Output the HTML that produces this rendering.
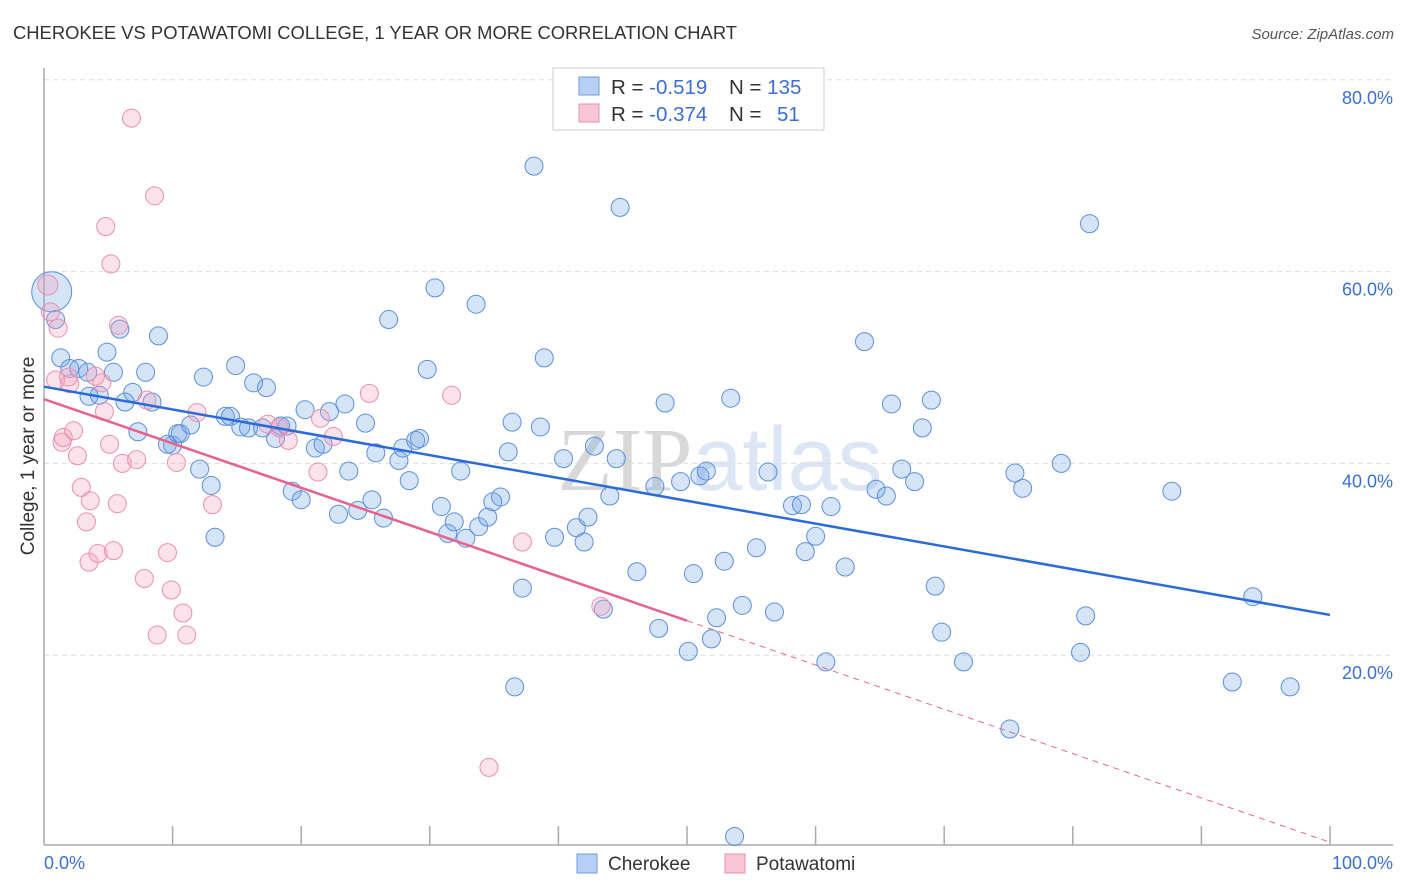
<!DOCTYPE html>
<html><head><meta charset="utf-8"><style>
body{margin:0;background:#fff;font-family:"Liberation Sans",sans-serif;}
svg{display:block}
</style></head><body>
<svg id="c" width="1406" height="892" xmlns="http://www.w3.org/2000/svg">
<text x="13" y="39" font-size="18" fill="#333" textLength="724" lengthAdjust="spacingAndGlyphs">CHEROKEE VS POTAWATOMI COLLEGE, 1 YEAR OR MORE CORRELATION CHART</text>
<text x="1394" y="39" font-size="15" fill="#555" font-style="italic" text-anchor="end">Source: ZipAtlas.com</text>
<text x="720" y="490" font-size="90" fill="#dde3ee" text-anchor="middle" font-family="Liberation Serif,serif"><tspan fill="#d8d8d8">ZIP</tspan><tspan fill="#dce6f5" font-family="Liberation Sans,sans-serif">atlas</tspan></text>
<text transform="translate(34,456) rotate(-90)" font-size="19" fill="#333" text-anchor="middle">College, 1 year or more</text>
<g id="grid"></g><g id="pts"></g><g id="trend"></g>
<g>
<rect x="553" y="68" width="271" height="62" fill="#fff" stroke="#ccc"/>
<rect x="579" y="77" width="20" height="18" fill="#b7d0f3" stroke="#6f9be0"/>
<rect x="579" y="104" width="20" height="18" fill="#f8c6d4" stroke="#ea90ab"/>
<text x="611" y="94" font-size="20.5" fill="#333">R = <tspan fill="#3a6fd8">-0.519</tspan><tspan x="729">N = </tspan><tspan fill="#3a6fd8">135</tspan></text>
<text x="611" y="121" font-size="20.5" fill="#333">R = <tspan fill="#3a6fd8">-0.374</tspan><tspan x="729">N = </tspan><tspan x="777" fill="#3a6fd8">51</tspan></text>
</g>
<g>
<rect x="577" y="854" width="20" height="19" fill="#b7d0f3" stroke="#6f9be0"/>
<text x="608" y="870" font-size="19" fill="#333">Cherokee</text>
<rect x="725" y="854" width="20" height="19" fill="#f8c6d4" stroke="#ea90ab"/>
<text x="756" y="870" font-size="19" fill="#333">Potawatomi</text>
</g>
</svg>
<script>
const yTicks=[20,40,60,80];
const yTickLabels=["20.0%","40.0%","60.0%","80.0%"];
const xTickLabels=["0.0%","100.0%"];
const cherokeeX=[0.6,0.9,1.3,2.0,2.7,3.4,3.5,4.3,4.9,5.4,5.9,6.3,6.9,7.3,7.9,8.4,8.9,9.6,10.0,10.4,10.6,11.4,12.1,12.4,13.0,13.3,14.1,14.5,14.9,15.3,15.9,16.3,17.0,17.3,18.0,18.4,18.9,19.3,20.0,20.3,21.1,21.7,22.2,22.9,23.4,23.7,24.4,25.0,25.5,25.8,26.4,26.8,27.6,27.9,28.4,28.9,29.2,29.8,30.4,30.9,31.4,31.9,32.4,32.8,33.6,33.8,34.5,34.9,35.5,36.1,36.4,36.6,37.2,38.1,38.6,38.9,39.7,40.4,41.4,42.0,42.3,42.8,43.5,44.0,44.5,44.8,46.1,47.5,47.8,48.3,49.5,50.1,50.5,51.0,51.5,51.9,52.3,52.9,53.4,54.3,55.4,56.3,56.8,58.2,58.9,59.2,60.0,60.8,61.2,62.3,63.8,64.7,65.5,65.9,66.7,67.7,68.3,69.0,69.3,69.8,71.5,75.1,75.5,76.1,79.1,80.6,81.0,81.3,87.7,94.0,92.4,96.9,53.7];
const cherokeeY=[57.9,55.0,51.0,49.9,49.9,49.5,47.0,47.1,51.6,49.5,54.0,46.4,47.4,43.3,49.5,46.4,53.3,42.0,41.9,43.1,43.1,44.0,39.4,49.0,37.7,32.3,44.9,44.9,50.2,43.8,43.7,48.4,43.7,47.9,42.6,43.9,43.9,37.1,36.2,45.6,41.6,42.0,45.4,34.7,46.2,39.2,35.1,44.2,36.2,41.1,34.3,55.0,40.3,41.6,38.2,42.4,42.6,49.8,58.3,35.5,32.7,33.9,39.2,32.2,56.6,33.4,34.4,36.0,36.5,41.2,44.3,16.7,27.0,71.0,43.8,51.0,32.3,40.5,33.3,31.8,34.4,41.8,24.8,36.6,40.5,66.7,28.7,37.6,22.8,46.3,38.1,20.4,28.5,38.7,39.2,21.7,23.9,29.8,46.8,25.2,31.2,39.1,24.5,35.6,35.7,30.8,32.4,19.3,35.5,29.2,52.7,37.3,36.6,46.2,39.4,38.1,43.7,46.6,27.2,22.4,19.3,12.3,39.0,37.4,40.0,20.3,24.1,65.0,37.1,26.1,17.2,16.7,1.1];
const potawatomiX=[0.3,0.5,1.1,0.9,1.4,1.5,2.3,1.9,2.0,2.6,2.9,3.3,3.5,3.6,4.2,4.0,4.5,4.7,5.1,5.2,4.8,5.4,5.7,5.8,6.1,6.8,7.2,7.8,8.0,8.6,8.8,9.6,9.9,10.3,10.8,11.1,11.9,13.1,17.4,19.0,21.3,21.5,22.5,25.3,31.7,34.6,37.2,43.3,18.3];
const potawatomiY=[58.6,55.8,54.1,48.7,42.2,42.7,43.4,49.0,48.3,40.8,37.5,33.9,29.7,36.1,30.6,49.1,48.4,45.4,42.0,60.8,64.7,30.9,35.8,54.4,40.0,76.0,40.4,28.0,46.6,67.9,22.1,30.7,26.8,40.1,24.4,22.1,45.3,35.7,44.1,42.4,39.1,44.7,42.8,47.3,47.1,8.3,31.8,25.1,43.7];
const cherokeeTrend=[48.0,24.2];
const potawatomiTrend=[46.7,0.5];
const L=44,R=1330,Y0=847,YS=9.59;
const sx=v=>L+(v/100)*(R-L), sy=v=>Y0-v*YS;
const NS="http://www.w3.org/2000/svg";
function mk(t,a,p){const e=document.createElementNS(NS,t);for(const k in a)e.setAttribute(k,a[k]);p.appendChild(e);return e;}
const g=document.getElementById('grid');
yTicks.forEach((t,i)=>{
 const l=mk('line',{x1:L,x2:1393,y1:sy(t),y2:sy(t),stroke:'#ddd','stroke-dasharray':'5,4'},g);
 
 
 const tx=mk('text',{x:1393,y:sy(t)+24,'font-size':18,fill:'#3a6fd8','text-anchor':'end'},g);
 tx.textContent=yTickLabels[i];
 
 
});
const ax=mk('line',{x1:L,x2:L,y1:68,y2:845,stroke:'#aaa','stroke-width':1.5},g);


const bx=mk('line',{x1:L,x2:1393,y1:845,y2:845,stroke:'#aaa','stroke-width':1.5},g);


for(let i=1;i<=10;i++){const t=mk('line',{x1:sx(i*10),x2:sx(i*10),y1:826,y2:845,stroke:'#aaa','stroke-width':1.5},g);
 
 }
[[L,'start'],[1393,'end']].forEach((p,i)=>{const t=mk('text',{x:p[0],y:869,'font-size':18,fill:'#3a6fd8','text-anchor':p[1]},g);t.textContent=xTickLabels[i];
 
 });
const pg=document.getElementById('pts');
cherokeeX.forEach((x,i)=>{const r=i==0?20:9;const c=mk('circle',{cx:sx(x),cy:sy(cherokeeY[i]),r:r,fill:'rgba(120,165,230,0.3)',stroke:'#5b8fe0','stroke-width':1},pg);
 
 });
potawatomiX.forEach((x,i)=>{const c=mk('circle',{cx:sx(x),cy:sy(potawatomiY[i]),r:i==0?10:9,fill:'rgba(245,160,185,0.3)',stroke:'#ec8fad','stroke-width':1},pg);
 
 });
const tg=document.getElementById('trend');
const ct=mk('line',{x1:sx(0),y1:sy(cherokeeTrend[0]),x2:sx(100),y2:sy(cherokeeTrend[1]),stroke:'#2a6bd9','stroke-width':2.5},tg);


const pm=(potawatomiTrend[0]+potawatomiTrend[1])/2;
const pt=mk('line',{x1:sx(0),y1:sy(potawatomiTrend[0]),x2:sx(50),y2:sy(pm),stroke:'#e8638c','stroke-width':2.5},tg);


const pd=mk('line',{x1:sx(50),y1:sy(pm),x2:sx(100),y2:sy(potawatomiTrend[1]),stroke:'#e8638c','stroke-width':1,'stroke-dasharray':'6,5'},tg);


</script>
</body></html>
